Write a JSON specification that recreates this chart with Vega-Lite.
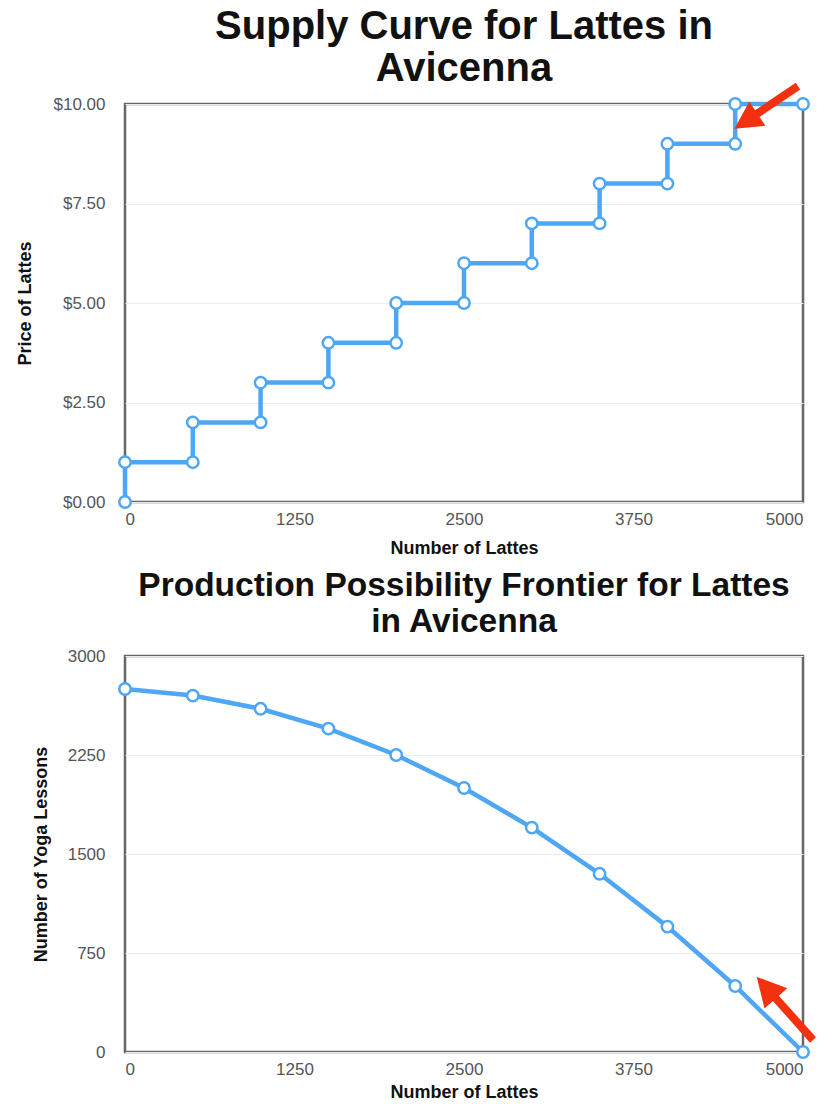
{
  "$schema": "https://vega.github.io/schema/vega-lite/v6.json",
  "padding": {"left": 14, "top": 5, "right": 12, "bottom": 0},
  "background": "white",
  "spacing": 8,
  "config": {
    "view": {"stroke": "#666", "strokeWidth": 2.5},
    "font": "Liberation Sans",
    "title": {"fontWeight": "bold", "color": "#111", "anchor": "middle"},
    "axis": {"labelColor": "#555", "labelFontSize": 17, "labelFont": "Liberation Sans", "titleFontSize": 18, "titleFontWeight": "bold", "titleColor": "#111", "ticks": false, "domain": false, "gridColor": "#ececec", "gridWidth": 1}
  },
  "datasets": {
    "supply": [
      {"lattes": 0, "price": 0}, {"lattes": 0, "price": 1},
      {"lattes": 500, "price": 1}, {"lattes": 500, "price": 2},
      {"lattes": 1000, "price": 2}, {"lattes": 1000, "price": 3},
      {"lattes": 1500, "price": 3}, {"lattes": 1500, "price": 4},
      {"lattes": 2000, "price": 4}, {"lattes": 2000, "price": 5},
      {"lattes": 2500, "price": 5}, {"lattes": 2500, "price": 6},
      {"lattes": 3000, "price": 6}, {"lattes": 3000, "price": 7},
      {"lattes": 3500, "price": 7}, {"lattes": 3500, "price": 8},
      {"lattes": 4000, "price": 8}, {"lattes": 4000, "price": 9},
      {"lattes": 4500, "price": 9}, {"lattes": 4500, "price": 10},
      {"lattes": 5000, "price": 10}
    ],
    "ppf": [
      {"lattes": 0, "yoga": 2750}, {"lattes": 500, "yoga": 2700},
      {"lattes": 1000, "yoga": 2600}, {"lattes": 1500, "yoga": 2450},
      {"lattes": 2000, "yoga": 2250}, {"lattes": 2500, "yoga": 2000},
      {"lattes": 3000, "yoga": 1700}, {"lattes": 3500, "yoga": 1350},
      {"lattes": 4000, "yoga": 950}, {"lattes": 4500, "yoga": 500},
      {"lattes": 5000, "yoga": 0}
    ],
    "arrowTop": [{"x": 4963, "y": 10.45, "x2": 4594, "y2": 9.6}],
    "arrowBottom": [{"x": 5074, "y": 91, "x2": 4742, "y2": 473}]
  },
  "vconcat": [
    {
      "title": {"text": ["Supply Curve for Lattes in", "Avicenna"], "fontSize": 40, "lineHeight": 42, "offset": -7},
      "width": 678,
      "height": 398,
      "layer": [
        {
          "data": {"name": "supply"},
          "mark": {"type": "line", "color": "#4ea6f5", "strokeWidth": 4.5},
          "encoding": {
            "x": {"field": "lattes", "type": "quantitative", "scale": {"domain": [0, 5000], "nice": false}, "axis": {"values": [0, 1250, 2500, 3750, 5000], "format": "d", "grid": false, "title": "Number of Lattes", "labelPadding": 9, "titlePadding": 12}},
            "y": {"field": "price", "type": "quantitative", "scale": {"domain": [0, 10], "nice": false}, "axis": {"values": [0, 2.5, 5, 7.5, 10], "format": "$.2f", "title": "Price of Lattes", "labelPadding": 20, "titlePadding": 19}},
            "order": {"field": "lattes", "type": "quantitative"}
          }
        },
        {
          "data": {"name": "supply"},
          "mark": {"type": "point", "shape": "circle", "filled": true, "fill": "white", "stroke": "#4ea6f5", "strokeWidth": 2.5, "size": 130, "opacity": 1},
          "encoding": {
            "x": {"field": "lattes", "type": "quantitative"},
            "y": {"field": "price", "type": "quantitative"}
          }
        },
        {
          "data": {"name": "arrowTop"},
          "mark": {"type": "rule", "color": "#f3310f", "strokeWidth": 8, "clip": false},
          "encoding": {
            "x": {"field": "x", "type": "quantitative"},
            "y": {"field": "y", "type": "quantitative"},
            "x2": {"field": "x2"},
            "y2": {"field": "y2"}
          }
        },
        {
          "data": {"name": "arrowTop"},
          "mark": {"type": "point", "shape": "M0,-1L0.9,0.7L-0.9,0.7Z", "filled": true, "color": "#f3310f", "opacity": 1, "size": 1050, "angle": 236.5},
          "encoding": {
            "x": {"field": "x2", "type": "quantitative"},
            "y": {"field": "y2", "type": "quantitative"}
          }
        }
      ]
    },
    {
      "title": {"text": ["Production Possibility Frontier for Lattes", "in Avicenna"], "fontSize": 33.5, "lineHeight": 36, "offset": 8},
      "width": 678,
      "height": 396,
      "layer": [
        {
          "data": {"name": "ppf"},
          "mark": {"type": "line", "color": "#4ea6f5", "strokeWidth": 4.5},
          "encoding": {
            "x": {"field": "lattes", "type": "quantitative", "scale": {"domain": [0, 5000], "nice": false}, "axis": {"values": [0, 1250, 2500, 3750, 5000], "format": "d", "grid": false, "title": "Number of Lattes", "labelPadding": 9, "titlePadding": 6}},
            "y": {"field": "yoga", "type": "quantitative", "scale": {"domain": [0, 3000], "nice": false}, "axis": {"values": [0, 750, 1500, 2250, 3000], "format": "d", "title": "Number of Yoga Lessons", "labelPadding": 20, "titlePadding": 17}}
          }
        },
        {
          "data": {"name": "ppf"},
          "mark": {"type": "point", "shape": "circle", "filled": true, "fill": "white", "stroke": "#4ea6f5", "strokeWidth": 2.5, "size": 130, "opacity": 1},
          "encoding": {
            "x": {"field": "lattes", "type": "quantitative"},
            "y": {"field": "yoga", "type": "quantitative"}
          }
        },
        {
          "data": {"name": "arrowBottom"},
          "mark": {"type": "rule", "color": "#f3310f", "strokeWidth": 8, "clip": false},
          "encoding": {
            "x": {"field": "x", "type": "quantitative"},
            "y": {"field": "y", "type": "quantitative"},
            "x2": {"field": "x2"},
            "y2": {"field": "y2"}
          }
        },
        {
          "data": {"name": "arrowBottom"},
          "mark": {"type": "point", "shape": "M0,-1L0.9,0.7L-0.9,0.7Z", "filled": true, "color": "#f3310f", "opacity": 1, "size": 1150, "angle": 318.3},
          "encoding": {
            "x": {"field": "x2", "type": "quantitative"},
            "y": {"field": "y2", "type": "quantitative"}
          }
        }
      ]
    }
  ]
}
